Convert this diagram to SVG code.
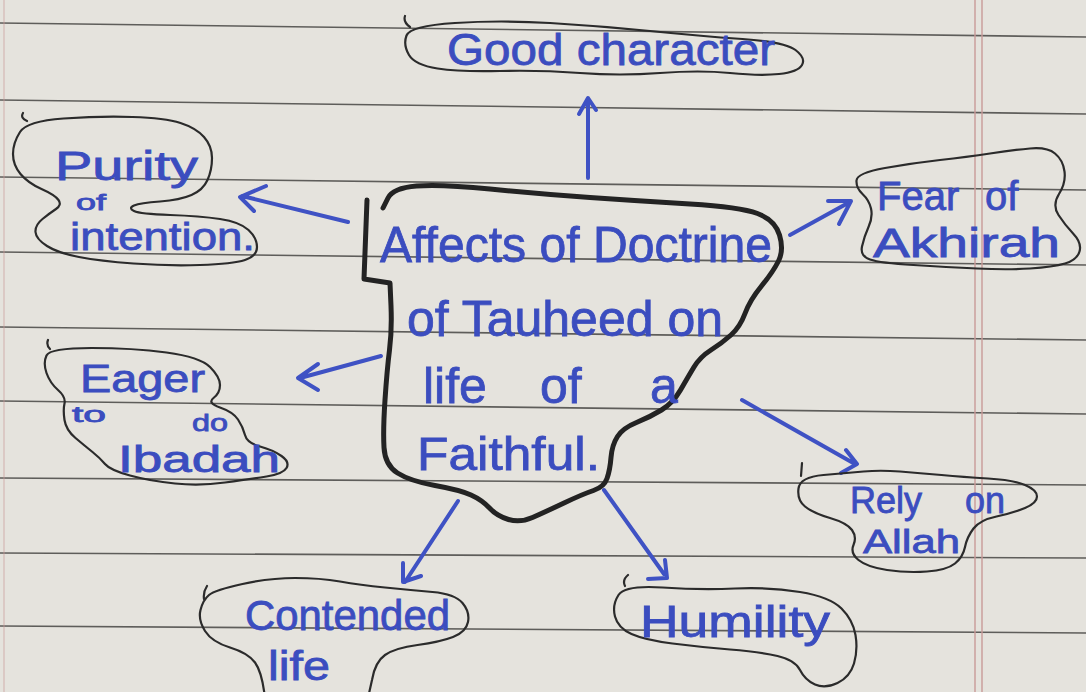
<svg xmlns="http://www.w3.org/2000/svg" width="1086" height="692" viewBox="0 0 1086 692">
<style>
.paper{fill:#e5e3dd}
.rule{stroke:#5e5d5a;stroke-width:1.6;fill:none}
.margin{stroke:#c99a98;stroke-width:1.4;fill:none}
.blob{fill:none;stroke:#2b2b2b;stroke-width:2.2;stroke-linecap:round;stroke-linejoin:round}
.core{fill:none;stroke:#232323;stroke-width:5;stroke-linecap:round;stroke-linejoin:round}
.ink{fill:#3b4dbf;font-family:"Liberation Sans","DejaVu Sans",sans-serif;stroke:#3b4dbf;stroke-width:0.8}
.arrow{fill:none;stroke:#3f52c4;stroke-width:4;stroke-linecap:round;stroke-linejoin:round}
</style>
<rect class="paper" x="0" y="0" width="1086" height="692"/>
<g id="paper-lines">
<line class="rule" x1="0" y1="23" x2="1086" y2="37"/>
<line class="rule" x1="0" y1="100" x2="1086" y2="114"/>
<line class="rule" x1="0" y1="177" x2="1086" y2="190"/>
<line class="rule" x1="0" y1="252" x2="1086" y2="265"/>
<line class="rule" x1="0" y1="327" x2="1086" y2="340"/>
<line class="rule" x1="0" y1="401" x2="1086" y2="414"/>
<line class="rule" x1="0" y1="478" x2="1086" y2="485"/>
<line class="rule" x1="0" y1="553" x2="1086" y2="558"/>
<line class="rule" x1="0" y1="626" x2="1086" y2="633"/>
<line class="margin" x1="975" y1="0" x2="975" y2="692"/>
<line class="margin" x1="982" y1="0" x2="982" y2="692"/>
<line class="margin" x1="4" y1="0" x2="4" y2="692" opacity="0.5"/>
</g>
<g id="connectors">
<path class="arrow" d="M588,178 L588,103 M579,114 L588,98 L596,110"/>
<path class="arrow" d="M348,222 L242,196 M266,186 L240,197 L254,211"/>
<path class="arrow" d="M381,356 L300,378 M318,364 L298,378 L318,390"/>
<path class="arrow" d="M790,235 L848,203 M828,201 L851,201 L839,224"/>
<path class="arrow" d="M742,400 L855,464 M846,450 L857,464 L841,473"/>
<path class="arrow" d="M458,501 L405,582 M403,563 L403,582 L421,576"/>
<path class="arrow" d="M604,490 L664,574 M665,560 L667,578 L648,579"/>
</g>
<g id="center">
<path class="core" d="M367,200 L364,279 L390,283 L391,306 Q392,330 389.5,350 Q387,370 385,400 Q383,430 384,447.5 Q385,465 397.5,473 Q410,481 435,485.5 Q460,490 471,495 Q482,500 489.5,508 Q497,516 508.5,519.5 Q520,523 532.5,517.5 Q545,512 564,503 Q583,494 593.5,490.5 Q604,487 607,478.5 Q610,470 611,457.5 Q612,445 617.5,436.5 Q623,428 636.5,422.5 Q650,417 661.5,410 Q673,403 680.5,390 Q688,377 694,367 Q700,357 711,350 Q722,343 731,335 Q740,327 745,313.5 Q750,300 761.5,286 Q773,272 778.5,261 Q784,250 779.5,235 Q775,220 757.5,213.5 Q740,207 690,204 Q640,201 590,197.5 Q540,194 490,189 Q440,184 416.5,186 Q393,188 388,198 L383,208"/>
<text class="ink" x="380" y="262" font-size="50" textLength="392" lengthAdjust="spacingAndGlyphs">Affects of Doctrine</text>
<text class="ink" x="407" y="336" font-size="50" textLength="316" lengthAdjust="spacingAndGlyphs">of Tauheed on</text>
<text class="ink" y="403" font-size="50"><tspan x="423">life </tspan><tspan x="540">of </tspan><tspan x="650">a</tspan></text>
<text class="ink" x="417" y="470" font-size="46" textLength="183" lengthAdjust="spacingAndGlyphs">Faithful.</text>
</g>
<g id="good-character">
<path class="blob" d="M405,16 Q403,22 410,27 M406.5,35.5 Q410,26 455,23 Q500,20 550,23 Q600,26 650,31 Q700,36 742.5,39 Q785,42 795.5,50 Q806,58 802,65 Q798,72 779,74 Q760,76 730,73 Q700,70 660,73 Q620,76 580,73 Q540,70 500,71 Q460,72 437.5,68.5 Q415,65 409,55 Q403,45 406.5,35.5 Z"/>
<text class="ink" x="447" y="65" font-size="44" textLength="328" lengthAdjust="spacingAndGlyphs">Good character</text>
</g>
<g id="purity">
<path class="blob" d="M23,113 Q20,118 27,121 M20,132 Q27,121 63.5,118.5 Q100,116 132.5,117 Q165,118 180.5,123 Q196,128 204,137 Q212,146 212,158 Q212,170 207.5,180 Q203,190 191.5,195 Q180,200 160,201.5 Q140,203 134,205.5 Q128,208 134,211 Q140,214 170,215 Q200,216 220,219 Q240,222 248.5,230 Q257,238 257,247 Q257,256 245,260 Q233,264 200,265 Q167,266 133.5,263.5 Q100,261 79,257 Q58,253 47,246 Q36,239 35.5,232 Q35,225 42.5,219 Q50,213 56,209 Q62,205 58.5,200 Q55,195 41.5,189 Q28,183 20.5,174 Q13,165 13,154 Q13,143 20,132 Z"/>
<text class="ink" x="55" y="180" font-size="40" textLength="143" lengthAdjust="spacingAndGlyphs">Purity</text>
<text class="ink" x="76" y="210" font-size="22" textLength="30" lengthAdjust="spacingAndGlyphs">of</text>
<text class="ink" x="70" y="250" font-size="38" textLength="185" lengthAdjust="spacingAndGlyphs">intention.</text>
</g>
<g id="eager">
<path class="blob" d="M48,340 Q46,345 50,349 M46.5,355.5 Q50,348 91.5,348 Q133,348 166.5,352.5 Q200,357 210,367 Q220,377 220,385 Q220,393 213.5,398 Q207,403 220,407.5 Q233,412 238,419.5 Q243,427 245,435 Q247,443 260,446.5 Q273,450 281.5,456 Q290,462 286.5,468 Q283,474 266.5,476.5 Q250,479 225,482.5 Q200,486 175,483.5 Q150,481 130,475.5 Q110,470 105,464 Q100,458 92.5,452 Q85,446 75.5,438 Q66,430 64.5,420 Q63,410 64.5,403.5 Q66,397 58,390 Q50,383 46.5,373 Q43,363 46.5,355.5 Z"/>
<text class="ink" x="80" y="392" font-size="38" textLength="125" lengthAdjust="spacingAndGlyphs">Eager</text>
<text class="ink" x="72" y="422" font-size="22" textLength="34" lengthAdjust="spacingAndGlyphs">to</text>
<text class="ink" x="192" y="431" font-size="24" textLength="36" lengthAdjust="spacingAndGlyphs">do</text>
<text class="ink" x="118" y="472" font-size="36" textLength="162" lengthAdjust="spacingAndGlyphs">Ibadah</text>
</g>
<g id="fear">
<path class="blob" d="M856.5,180.5 Q857,173 885,168 Q913,163 940,160 Q967,157 990,153.5 Q1013,150 1030,148.5 Q1047,147 1055,153.5 Q1063,160 1064.5,171.5 Q1066,183 1059,194 Q1052,205 1058.5,215 Q1065,225 1073.5,234 Q1082,243 1079.5,251.5 Q1077,260 1065,263.5 Q1053,267 1030,268.5 Q1007,270 977,268.5 Q947,267 913.5,265 Q880,263 870,259.5 Q860,256 862,246.5 Q864,237 868.5,227 Q873,217 871,208.5 Q869,200 862.5,194 Q856,188 856.5,180.5 Z"/>
<text class="ink" y="210" font-size="40"><tspan x="877">Fear </tspan><tspan x="985">of</tspan></text>
<text class="ink" x="873" y="257" font-size="40" textLength="187" lengthAdjust="spacingAndGlyphs">Akhirah</text>
</g>
<g id="rely">
<path class="blob" d="M802,463 L801,476 M798.5,488.5 Q800,477 823.5,475 Q847,473 863.5,471.5 Q880,470 900,471.5 Q920,473 941.5,475 Q963,477 988,478.5 Q1013,480 1025,485 Q1037,490 1037,496.5 Q1037,503 1025,508 Q1013,513 996.5,516.5 Q980,520 973.5,528.5 Q967,537 965,547 Q963,557 955,563.5 Q947,570 927,571.5 Q907,573 887,570 Q867,567 858.5,560 Q850,553 853.5,545 Q857,537 852,530 Q847,523 830,518 Q813,513 805,506.5 Q797,500 798.5,488.5 Z"/>
<text class="ink" y="513" font-size="36"><tspan x="850">Rely </tspan><tspan x="965">on</tspan></text>
<text class="ink" x="863" y="553" font-size="34" textLength="97" lengthAdjust="spacingAndGlyphs">Allah</text>
</g>
<g id="contended">
<path class="blob" d="M207,586 Q203,592 204,599 M265,698 Q262,672 255,662.5 Q248,653 230,647.5 Q212,642 205,631 Q198,620 200.5,610 Q203,600 209,595 Q215,590 242.5,584 Q270,578 295,578 Q320,578 340,581.5 Q360,585 385,587.5 Q410,590 432.5,592 Q455,594 462.5,603 Q470,612 468,622 Q466,632 453,637 Q440,642 417.5,645 Q395,648 385,655 Q375,662 372,680 L368,698"/>
<text class="ink" x="245" y="630" font-size="42" textLength="205" lengthAdjust="spacingAndGlyphs">Contended</text>
<text class="ink" x="268" y="680" font-size="40" textLength="62" lengthAdjust="spacingAndGlyphs">life</text>
</g>
<g id="humility">
<path class="blob" d="M628,575 Q622,580 625,586 M618.5,595 Q625,585 662.5,587.5 Q700,590 735,588.5 Q770,587 800,592 Q830,597 841.5,608.5 Q853,620 855.5,635 Q858,650 854,663.5 Q850,677 837.5,683 Q825,689 815,684.5 Q805,680 800,670 Q795,660 777.5,656 Q760,652 730,649.5 Q700,647 672.5,643.5 Q645,640 631.5,634 Q618,628 615,616.5 Q612,605 618.5,595 Z"/>
<text class="ink" x="640" y="637" font-size="44" textLength="190" lengthAdjust="spacingAndGlyphs">Humility</text>
</g>
</svg>
